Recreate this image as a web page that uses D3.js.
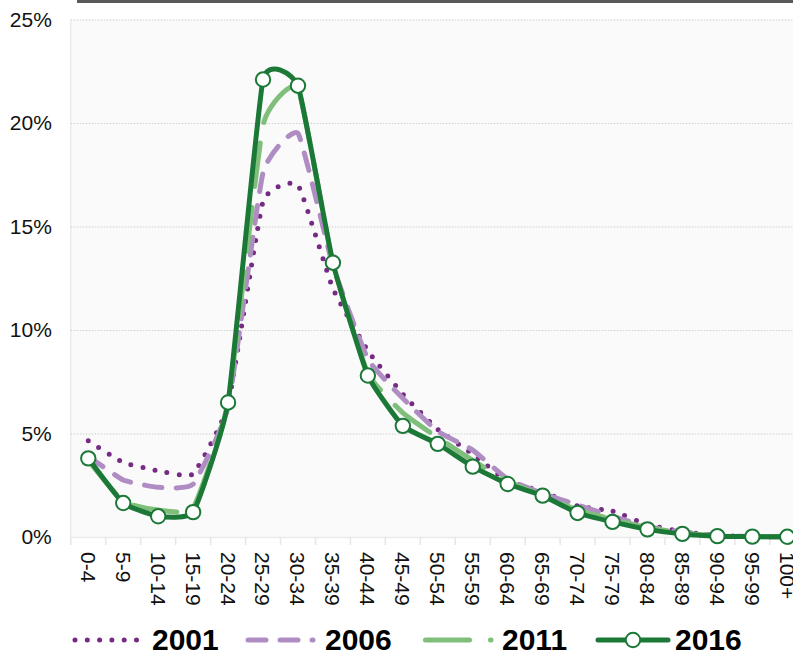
<!DOCTYPE html>
<html>
<head>
<meta charset="utf-8">
<script src="https://cdn.jsdelivr.net/npm/d3@7"></script>
<style>
  body { margin: 0; background: #fff; }
  text { font-family: "Liberation Sans", Arial, sans-serif; }
</style>
</head>
<body>
<script>
// age groups on the x axis, share of population (%) per census year

let ageGroups = ["0-4", "5-9", "10-14", "15-19", "20-24", "25-29", "30-34", "35-39", "40-44", "45-49",
  "50-54", "55-59", "60-64", "65-69", "70-74", "75-79", "80-84", "85-89", "90-94", "95-99", "100+"];

let yTicks = [0, 5, 10, 15, 20, 25];

let years = ["2001", "2006", "2011", "2016"];

let share2001 = [4.65, 3.6, 3.2, 3.05, 6.4, 16.2, 17.0, 12.0, 9.0, 6.9, 5.2, 4.0, 2.7, 2.2, 1.5, 1.25, 0.6, 0.25, 0.08, 0.02, 0.01];
let share2006 = [3.9, 2.75, 2.4, 2.55, 6.3, 17.6, 19.5, 13.1, 8.6, 6.7, 5.1, 4.2, 2.8, 2.1, 1.55, 1.0, 0.5, 0.25, 0.07, 0.02, 0.01];
let share2011 = [3.7, 1.7, 1.3, 1.4, 6.5, 19.9, 21.7, 13.2, 7.9, 6.0, 4.8, 3.7, 2.7, 2.0, 1.3, 0.85, 0.45, 0.2, 0.05, 0.01, 0.01];
let share2016 = [3.8, 1.64, 1.0, 1.2, 6.5, 22.1, 21.8, 13.25, 7.8, 5.37, 4.5, 3.4, 2.56, 2.0, 1.16, 0.73, 0.37, 0.15, 0.04, 0.02, 0.01];

let allShares = [share2001, share2006, share2011, share2016];

let colors = ["#762a83", "#af8dc3", "#7fbf7b", "#1b7837"];
let dashes = ["0 12.3", "18 14", "44 21", null];
let widths = [5, 5, 5, 5];

let plotLeft = 70.8, step = 34.95, plotTop = 19.5, plotBottom = 537;

let viz = d3.select("body")
  .append("svg")
    .attr("width", 793)
    .attr("height", 651)
;

let x = d3.scaleBand()
  .domain(ageGroups)
  .range([plotLeft, plotLeft + step * ageGroups.length])
;

let y = d3.scaleLinear()
  .domain([0, 25])
  .range([plotBottom, plotTop])
;

function cx(d, i){
  return x(ageGroups[i]) + x.bandwidth() / 2;
}

// dark bar along the top
viz.append("rect")
  .attr("x", 77)
  .attr("y", 0)
  .attr("width", 716)
  .attr("height", 3)
  .attr("fill", "#595959")
;

// plot background
viz.append("rect")
  .attr("x", plotLeft)
  .attr("y", plotTop)
  .attr("width", 793 - plotLeft)
  .attr("height", plotBottom - plotTop)
  .attr("fill", "#fafafa")
;

viz.append("line")
  .attr("x1", plotLeft).attr("x2", plotLeft)
  .attr("y1", plotTop).attr("y2", plotBottom)
  .attr("stroke", "#ececec")
  .attr("stroke-width", 1.5)
;

// y axis with dotted gridlines
let yAxis = viz.append("g")
  .attr("transform", "translate(" + plotLeft + ",0)")
  .call(d3.axisLeft(y).tickValues(yTicks).tickSize(-(793 - plotLeft)).tickPadding(19).tickFormat(d => d + "%"))
;
yAxis.select(".domain").remove();
yAxis.selectAll("line")
  .attr("stroke", "#cfcfcf")
  .attr("stroke-dasharray", "1.5 1.5")
;
yAxis.selectAll(".tick").filter(d => d == 0).select("line")
  .attr("stroke", "#ececec")
  .attr("stroke-dasharray", null)
  .attr("stroke-width", 1.5)
;
yAxis.selectAll("text")
  .attr("font-size", 21)
  .attr("fill", "#111")
;

// tick marks between the age groups
viz.selectAll(".band-tick").data(ageGroups)
  .enter()
    .append("line")
    .attr("class", "band-tick")
    .attr("x1", d => x(d))
    .attr("x2", d => x(d))
    .attr("y1", plotBottom)
    .attr("y2", plotBottom + 8)
    .attr("stroke", "#e6e6e6")
    .attr("stroke-width", 1.5)
;

// x labels, turned to read downwards
let xAxis = viz.append("g")
  .attr("transform", "translate(0," + plotBottom + ")")
  .call(d3.axisBottom(x).tickSize(0).tickPadding(0))
;
xAxis.select(".domain").remove();
xAxis.selectAll("text")
  .attr("transform", "rotate(90)")
  .attr("text-anchor", "start")
  .attr("x", 15)
  .attr("y", 0)
  .attr("dy", "0.36em")
  .attr("font-size", 21)
  .attr("fill", "#111")
;

let line = d3.line()
  .x(cx)
  .y(d => y(d))
  .curve(d3.curveCardinal.tension(0.6))
;

viz.selectAll(".series").data(allShares)
  .enter()
    .append("path")
    .attr("class", "series")
    .attr("d", line)
    .attr("fill", "none")
    .attr("stroke", (d, i) => colors[i])
    .attr("stroke-width", (d, i) => widths[i])
    .attr("stroke-dasharray", (d, i) => dashes[i])
    .attr("stroke-linecap", "round")
    .attr("stroke-linejoin", "round")
;

viz.selectAll(".marker").data(share2016)
  .enter()
    .append("circle")
    .attr("class", "marker")
    .attr("cx", cx)
    .attr("cy", d => y(d))
    .attr("r", 7.2)
    .attr("fill", "white")
    .attr("stroke", colors[3])
    .attr("stroke-width", 2)
;

// legend
let legendLine = [[75, 138], [248, 313], [425.5, 491], [598, 668]];
let legendText = [152, 325, 502, 675];
let legendY = 640;

let legend = viz.selectAll(".legend").data(years)
  .enter()
    .append("g")
    .attr("class", "legend")
;

legend.append("path")
  .attr("d", (d, i) => "M" + legendLine[i][0] + "," + legendY + "H" + legendLine[i][1])
  .attr("stroke", (d, i) => colors[i])
  .attr("stroke-width", 5)
  .attr("stroke-dasharray", (d, i) => dashes[i])
  .attr("stroke-linecap", "round")
;

legend.filter((d, i) => i == 3)
  .append("circle")
  .attr("cx", 633)
  .attr("cy", legendY)
  .attr("r", 7.2)
  .attr("fill", "white")
  .attr("stroke", colors[3])
  .attr("stroke-width", 2)
;

legend.append("text")
  .attr("x", (d, i) => legendText[i])
  .attr("y", 650)
  .attr("font-size", 30)
  .attr("font-weight", "bold")
  .attr("fill", "#000")
  .text(d => d)
;
</script>
</body>
</html>
